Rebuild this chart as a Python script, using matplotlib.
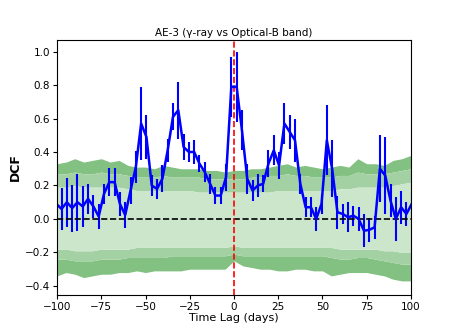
"""
DCF of AE-3: gamma-ray vs Optical-B band, with significance bands.
"""

import numpy as np
import matplotlib
matplotlib.use("Agg")
import matplotlib.pyplot as plt


# lag grid of the DCF points (days)
LAGS = np.arange(-100.5, 101, 3.0)

DCF = [
    0.09, 0.06, 0.10, 0.065, 0.10, 0.075, 0.12, 0.075, 0.015, 0.15,
    0.22, 0.22, 0.09, 0.024, 0.17, 0.31, 0.57, 0.49, 0.20, 0.18,
    0.24, 0.41, 0.61, 0.65, 0.43, 0.40, 0.40, 0.33, 0.28, 0.21,
    0.14, 0.14, 0.25, 0.79, 0.79, 0.53, 0.24, 0.17, 0.20, 0.21,
    0.33, 0.41, 0.32, 0.57, 0.52, 0.47, 0.21, 0.07, 0.07, 0.0,
    0.09, 0.47, 0.30, 0.04, 0.03, 0.01, 0.02, 0.0, -0.07, -0.065,
    -0.05, 0.30, 0.26, 0.11, 0.0, 0.07, 0.03, 0.09,
]

DCF_ERR = [
    0.10, 0.125, 0.145, 0.14, 0.17, 0.12, 0.09, 0.07, 0.075, 0.06,
    0.085, 0.085, 0.07, 0.08, 0.08, 0.095, 0.22, 0.13, 0.06, 0.06,
    0.08, 0.07, 0.08, 0.17, 0.08, 0.06, 0.07, 0.05, 0.06, 0.06,
    0.05, 0.05, 0.08, 0.18, 0.21, 0.12, 0.09, 0.06, 0.07, 0.05,
    0.08, 0.09, 0.08, 0.12, 0.10, 0.13, 0.06, 0.06, 0.06, 0.07,
    0.06, 0.21, 0.17, 0.10, 0.06, 0.09, 0.06, 0.07, 0.10, 0.07,
    0.07, 0.20, 0.23, 0.10, 0.13, 0.10, 0.07, 0.07,
]

# significance bands, sampled every 5 days
BAND_LAGS = np.arange(-100, 101, 5)
UPPER_3 = [0.33, 0.34, 0.36, 0.34, 0.35, 0.36, 0.34, 0.35, 0.32, 0.31,
           0.31, 0.30, 0.32, 0.31, 0.30, 0.30, 0.30, 0.29, 0.29, 0.28,
           0.29, 0.29, 0.30, 0.30, 0.31, 0.32, 0.33, 0.31, 0.32, 0.31,
           0.30, 0.31, 0.32, 0.31, 0.36, 0.33, 0.33, 0.32, 0.35, 0.36,
           0.38]
UPPER_2 = [0.27, 0.27, 0.28, 0.27, 0.27, 0.28, 0.27, 0.27, 0.26, 0.25,
           0.25, 0.25, 0.26, 0.25, 0.25, 0.25, 0.25, 0.24, 0.24, 0.24,
           0.24, 0.24, 0.25, 0.25, 0.26, 0.26, 0.27, 0.26, 0.26, 0.25,
           0.25, 0.25, 0.26, 0.26, 0.28, 0.27, 0.27, 0.27, 0.28, 0.29,
           0.30]
UPPER_1 = [0.19, 0.19, 0.20, 0.19, 0.19, 0.19, 0.19, 0.19, 0.18, 0.17,
           0.17, 0.17, 0.17, 0.17, 0.17, 0.17, 0.16, 0.16, 0.16, 0.16,
           0.16, 0.16, 0.16, 0.16, 0.16, 0.17, 0.17, 0.17, 0.17, 0.17,
           0.17, 0.17, 0.18, 0.18, 0.19, 0.19, 0.19, 0.19, 0.20, 0.21,
           0.22]
LOWER_1 = [-0.18, -0.18, -0.19, -0.19, -0.19, -0.18, -0.18, -0.18, -0.18,
           -0.17, -0.17, -0.17, -0.17, -0.17, -0.17, -0.17, -0.17, -0.17,
           -0.17, -0.17, -0.16, -0.17, -0.17, -0.17, -0.17, -0.17, -0.17,
           -0.17, -0.17, -0.17, -0.17, -0.17, -0.18, -0.18, -0.18, -0.18,
           -0.18, -0.19, -0.19, -0.20, -0.20]
LOWER_2 = [-0.24, -0.24, -0.25, -0.25, -0.25, -0.24, -0.24, -0.24, -0.23,
           -0.23, -0.23, -0.23, -0.23, -0.22, -0.22, -0.22, -0.22, -0.22,
           -0.22, -0.22, -0.21, -0.22, -0.22, -0.22, -0.22, -0.22, -0.22,
           -0.22, -0.22, -0.22, -0.22, -0.23, -0.24, -0.24, -0.23, -0.23,
           -0.24, -0.25, -0.26, -0.27, -0.27]
LOWER_3 = [-0.34, -0.32, -0.33, -0.35, -0.34, -0.33, -0.33, -0.32, -0.32,
           -0.31, -0.32, -0.31, -0.31, -0.31, -0.31, -0.30, -0.30, -0.30,
           -0.30, -0.30, -0.25, -0.28, -0.29, -0.30, -0.30, -0.31, -0.31,
           -0.30, -0.30, -0.31, -0.31, -0.34, -0.33, -0.32, -0.32, -0.32,
           -0.33, -0.34, -0.36, -0.37, -0.37]


def main() -> None:
    fig = plt.figure(figsize=(4.57, 3.32), dpi=100)
    ax = fig.add_axes([0.125, 0.111, 0.774, 0.769])

    # bands, outer ring darkest
    ax.fill_between(BAND_LAGS, UPPER_2, UPPER_3, color="#82c182", lw=0)
    ax.fill_between(BAND_LAGS, LOWER_3, LOWER_2, color="#82c182", lw=0)
    ax.fill_between(BAND_LAGS, UPPER_1, UPPER_2, color="#a3d1a3", lw=0)
    ax.fill_between(BAND_LAGS, LOWER_2, LOWER_1, color="#a3d1a3", lw=0)
    ax.fill_between(BAND_LAGS, LOWER_1, UPPER_1, color="#cce6cc", lw=0)

    ax.errorbar(LAGS, DCF, yerr=DCF_ERR, color="blue", lw=1.8,
                elinewidth=1.5, capsize=0)

    ax.axhline(0, color="black", ls="--", lw=1.2)
    ax.axvline(0, color="red", ls="--", lw=1.2)

    ax.set_xlim(-100, 100)
    ax.set_ylim(-0.455, 1.07)
    ax.set_xticks([-100, -75, -50, -25, 0, 25, 50, 75, 100])
    ax.set_yticks([-0.4, -0.2, 0.0, 0.2, 0.4, 0.6, 0.8, 1.0])
    ax.tick_params(labelsize=7.5, length=3, pad=2)

    ax.set_title("AE-3 (γ-ray vs Optical-B band)", fontsize=7.5, pad=3)
    ax.set_xlabel("Time Lag (days)", fontsize=8, labelpad=1)
    ax.set_ylabel("DCF", fontsize=9, fontweight="bold", labelpad=2)

    fig.savefig("out.png", dpi=100)


if __name__ == "__main__":
    main()
